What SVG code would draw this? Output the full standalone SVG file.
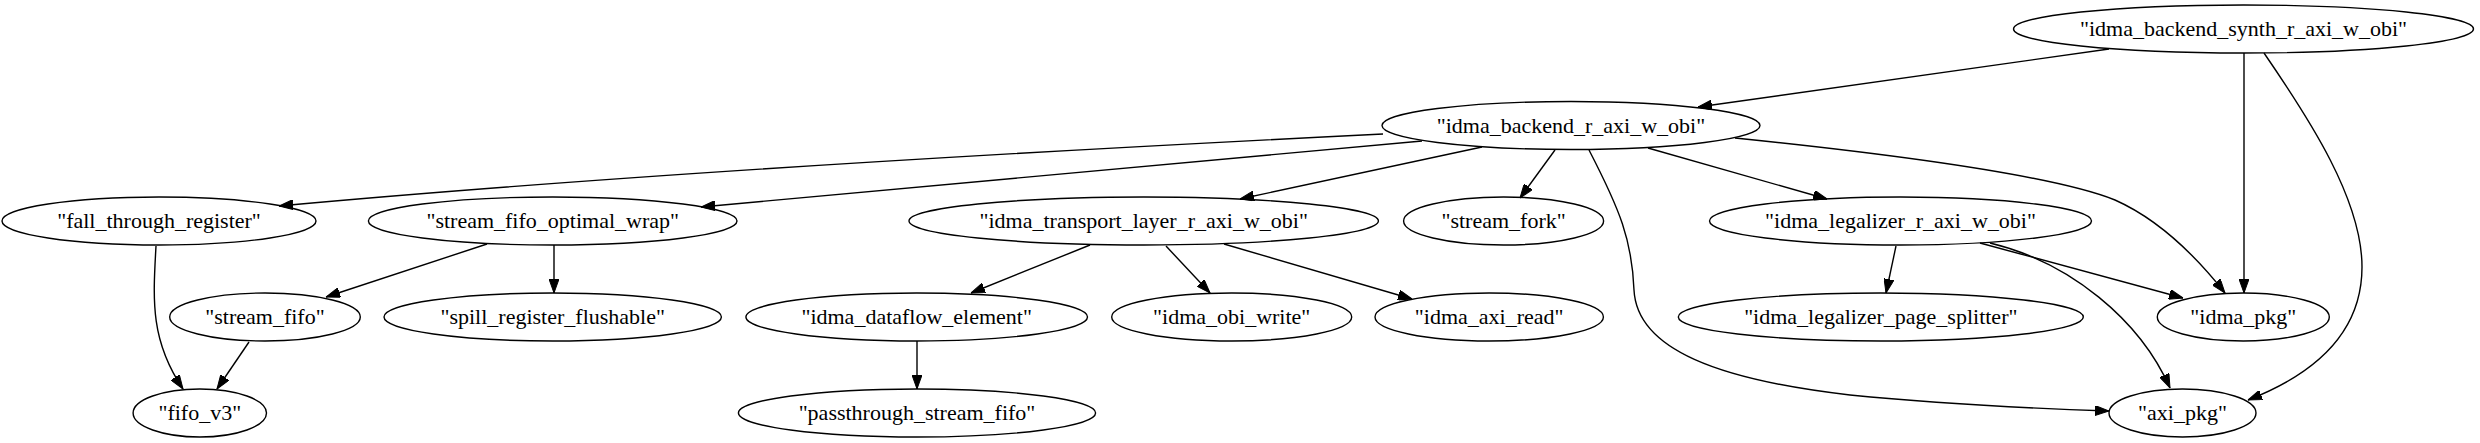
<svg xmlns="http://www.w3.org/2000/svg" width="2480" height="443" viewBox="0 0 2480 443">
<style>
.node ellipse{fill:none;stroke:#000;stroke-width:1.4}
.node text{font-family:"Liberation Serif","Times New Roman",serif;font-size:22px;fill:#000;text-anchor:middle}
.edges path{fill:none;stroke:#000;stroke-width:1.4;marker-end:url(#arr)}
</style>
<defs>
<marker id="arr" viewBox="0 0 14 10" refX="14" refY="5" markerWidth="14" markerHeight="10" markerUnits="userSpaceOnUse" orient="auto">
<path d="M0,0 L14,5 L0,10 z" fill="#000" stroke="#000" stroke-width="1"/>
</marker>
</defs>
<rect width="2480" height="443" fill="#fff"/>
<g class="edges" id="edges">
<path d="M2109,49 L1698,107"/>
<path d="M2244,53 L2244,293"/>
<path d="M2264,53 C2310,120 2362,200 2362,267 C2362,330 2320,372 2248,400"/>
<path d="M1383,134 C1100,148 650,172 279,206"/>
<path d="M1422,141 L701,207"/>
<path d="M1482,147 L1240,199"/>
<path d="M1555,150 L1520,198"/>
<path d="M1589,150 C1620,210 1632,240 1634,290 C1637,350 1720,380 1850,395 C1950,405 2050,409 2109,411"/>
<path d="M1648,148 L1827,199"/>
<path d="M1735,138 C1930,158 2060,178 2115,200 C2160,220 2195,255 2225,293"/>
<path d="M1896,246 L1886,293"/>
<path d="M1980,243 L2183,298"/>
<path d="M1990,243 C2070,262 2140,320 2170,388"/>
<path d="M1090,245 L971,293"/>
<path d="M1166,246 L1210,293"/>
<path d="M1224,244 L1412,299"/>
<path d="M917,341 L917,389"/>
<path d="M487,244 L326,297"/>
<path d="M554,245 L554,293"/>
<path d="M249,342 L217,389"/>
<path d="M156,246 C153,300 150,340 183,389"/>
</g>
<g class="node" id="n_synth"><ellipse cx="2243.5" cy="29" rx="230" ry="24"/><text x="2243.5" y="36">"idma_backend_synth_r_axi_w_obi"</text></g>
<g class="node" id="n_backend"><ellipse cx="1571" cy="125.5" rx="189" ry="24"/><text x="1571" y="132.5">"idma_backend_r_axi_w_obi"</text></g>
<g class="node" id="n_fall"><ellipse cx="159" cy="221" rx="157" ry="24"/><text x="159" y="228">"fall_through_register"</text></g>
<g class="node" id="n_sfow"><ellipse cx="552.7" cy="221" rx="184.3" ry="24"/><text x="552.7" y="228">"stream_fifo_optimal_wrap"</text></g>
<g class="node" id="n_transport"><ellipse cx="1143.7" cy="221" rx="234.7" ry="24"/><text x="1143.7" y="228">"idma_transport_layer_r_axi_w_obi"</text></g>
<g class="node" id="n_fork"><ellipse cx="1503.6" cy="221" rx="100" ry="24"/><text x="1503.6" y="228">"stream_fork"</text></g>
<g class="node" id="n_legalizer"><ellipse cx="1900.5" cy="221" rx="191" ry="24"/><text x="1900.5" y="228">"idma_legalizer_r_axi_w_obi"</text></g>
<g class="node" id="n_stream_fifo"><ellipse cx="265" cy="317" rx="95.3" ry="24"/><text x="265" y="324">"stream_fifo"</text></g>
<g class="node" id="n_spill"><ellipse cx="552.7" cy="317" rx="168.7" ry="24"/><text x="552.7" y="324">"spill_register_flushable"</text></g>
<g class="node" id="n_dataflow"><ellipse cx="916.7" cy="317" rx="170.8" ry="24"/><text x="916.7" y="324">"idma_dataflow_element"</text></g>
<g class="node" id="n_obi_write"><ellipse cx="1231.7" cy="317" rx="120" ry="24"/><text x="1231.7" y="324">"idma_obi_write"</text></g>
<g class="node" id="n_axi_read"><ellipse cx="1489.2" cy="317" rx="114.2" ry="24"/><text x="1489.2" y="324">"idma_axi_read"</text></g>
<g class="node" id="n_splitter"><ellipse cx="1880.8" cy="317" rx="202.5" ry="24"/><text x="1880.8" y="324">"idma_legalizer_page_splitter"</text></g>
<g class="node" id="n_idma_pkg"><ellipse cx="2243.3" cy="317" rx="86" ry="24"/><text x="2243.3" y="324">"idma_pkg"</text></g>
<g class="node" id="n_fifo_v3"><ellipse cx="199.8" cy="413" rx="66.7" ry="24"/><text x="199.8" y="420">"fifo_v3"</text></g>
<g class="node" id="n_passthrough"><ellipse cx="917" cy="413" rx="178.6" ry="24"/><text x="917" y="420">"passthrough_stream_fifo"</text></g>
<g class="node" id="n_axi_pkg"><ellipse cx="2182.5" cy="413" rx="73.5" ry="24"/><text x="2182.5" y="420">"axi_pkg"</text></g>
</svg>
